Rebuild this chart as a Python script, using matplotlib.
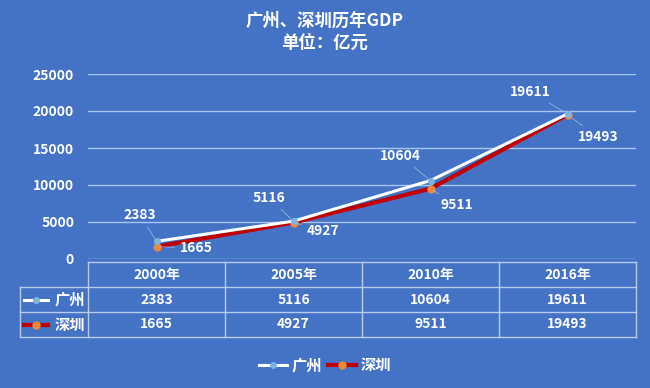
import matplotlib
matplotlib.use("Agg")
import matplotlib.pyplot as plt
from matplotlib.lines import Line2D

plt.rcParams['font.family'] = ['Noto Sans CJK SC', 'DejaVu Sans']
plt.rcParams['font.weight'] = 'bold'

# data
years = ['2000年', '2005年', '2010年', '2016年']
gz = [2383, 5116, 10604, 19611]
sz = [1665, 4927, 9511, 19493]
series_names = ['广州', '深圳']
yticks = [0, 5000, 10000, 15000, 20000, 25000]

bg = '#4472C4'
grid_c = '#A9C6EE'
table_c = '#B8CDEE'
gz_line = 'white'
gz_marker = '#7FB2E5'
sz_line = '#C00000'
sz_marker = '#ED8A3A'
txt_c = 'white'

fig = plt.figure(figsize=(6.5, 3.88), dpi=100, facecolor=bg)
ax = fig.add_axes([88 / 650, 1 - 259 / 388, 548 / 650, 185 / 388])
ax.set_facecolor(bg)

x = list(range(len(years)))
ax.set_xlim(-0.5, len(years) - 0.5)
ax.set_ylim(0, 25000)
ax.set_yticks(yticks)
ax.set_yticklabels([str(v) for v in yticks], color=txt_c, fontsize=10, fontweight='bold')
ax.tick_params(axis='y', length=0, pad=10)
ax.set_xticks([])
for s in ax.spines.values():
    s.set_visible(False)
for v in yticks:
    ax.axhline(v, color=grid_c, lw=1, zorder=1)

ax.plot(x, sz, color=sz_line, lw=3, marker='o', ms=5, mfc=sz_marker, mec=sz_marker, zorder=3)
ax.plot(x, gz, color=gz_line, lw=2.2, marker='o', ms=4, mfc=gz_marker, mec=gz_marker, zorder=4)

# data labels (offsets in points)
gz_off = [(-12, 19), (-18, 17), (-22, 18), (-27, 16)]
sz_off = [(29, -1), (21, -6), (19, -12), (22, -16)]
lead = dict(arrowstyle='-', color='#9DB4DA', lw=0.6, shrinkA=2, shrinkB=2)
for i in x:
    ax.annotate(str(gz[i]), (i, gz[i]), xytext=gz_off[i], textcoords='offset points',
                ha='center', va='center', color=txt_c, fontsize=10, fontweight='bold',
                arrowprops=lead, zorder=5)
    ax.annotate(str(sz[i]), (i, sz[i]), xytext=sz_off[i], textcoords='offset points',
                ha='center', va='center', color=txt_c, fontsize=10, fontweight='bold',
                arrowprops=lead, zorder=5)

# data table below the axes
tr = ax.transAxes
px = 1 / 185.0
rows_y = [-3 * px, -28 * px, -53 * px, -78 * px]
lab_left = -68 / 548
kw = dict(color=table_c, lw=1, transform=tr, clip_on=False)
ax.add_line(Line2D([0, 1], [rows_y[0], rows_y[0]], **kw))
for ry in rows_y[1:]:
    ax.add_line(Line2D([lab_left, 1], [ry, ry], **kw))
ax.add_line(Line2D([lab_left, lab_left], [rows_y[1], rows_y[3]], **kw))
for k in range(len(years) + 1):
    xf = k / len(years)
    ax.add_line(Line2D([xf, xf], [rows_y[0], rows_y[3]], **kw))

blend = ax.get_xaxis_transform()
for i in x:
    ax.text(i, (rows_y[0] + rows_y[1]) / 2, years[i], transform=blend, ha='center', va='center',
            color=txt_c, fontsize=10, fontweight='bold', clip_on=False)
    ax.text(i, (rows_y[1] + rows_y[2]) / 2, str(gz[i]), transform=blend, ha='center', va='center',
            color=txt_c, fontsize=10, fontweight='bold', clip_on=False)
    ax.text(i, (rows_y[2] + rows_y[3]) / 2, str(sz[i]), transform=blend, ha='center', va='center',
            color=txt_c, fontsize=10, fontweight='bold', clip_on=False)

# row keys
styles = [(gz_line, gz_marker, 4, 2.2), (sz_line, sz_marker, 5, 3)]
for r, name in enumerate(series_names):
    yc = (rows_y[r + 1] + rows_y[r + 2]) / 2
    lc, mc, ms, lw = styles[r]
    ax.add_line(Line2D([-64 / 548, -40 / 548], [yc, yc], color=lc, lw=lw, transform=tr, clip_on=False))
    ax.add_line(Line2D([-52 / 548], [yc], marker='o', ms=ms, mfc=mc, mec=mc, lw=0,
                       transform=tr, clip_on=False))
    ax.text(-3 / 548, yc, name, transform=tr, ha='right', va='center', color=txt_c,
            fontsize=11, fontweight='bold', clip_on=False)

# title
fig.text(0.5, 1 - 21 / 388, '广州、深圳历年GDP', ha='center', va='center', color=txt_c,
         fontsize=12.5, fontweight='bold')
fig.text(0.5, 1 - 43 / 388, '单位：亿元', ha='center', va='center', color=txt_c,
         fontsize=12.5, fontweight='bold')

# legend
handles = [Line2D([], [], color=gz_line, lw=2.2, marker='o', ms=4, mfc=gz_marker, mec=gz_marker),
           Line2D([], [], color=sz_line, lw=3, marker='o', ms=5, mfc=sz_marker, mec=sz_marker)]
leg = fig.legend(handles, series_names, loc='center', bbox_to_anchor=(0.5, 1 - 365 / 388), ncol=2,
                 frameon=False, handlelength=1.8, handletextpad=0.3, columnspacing=0.4,
                 prop={'size': 11, 'weight': 'bold'})
for t in leg.get_texts():
    t.set_color(txt_c)

fig.savefig('out.png', dpi=100, facecolor=bg)
